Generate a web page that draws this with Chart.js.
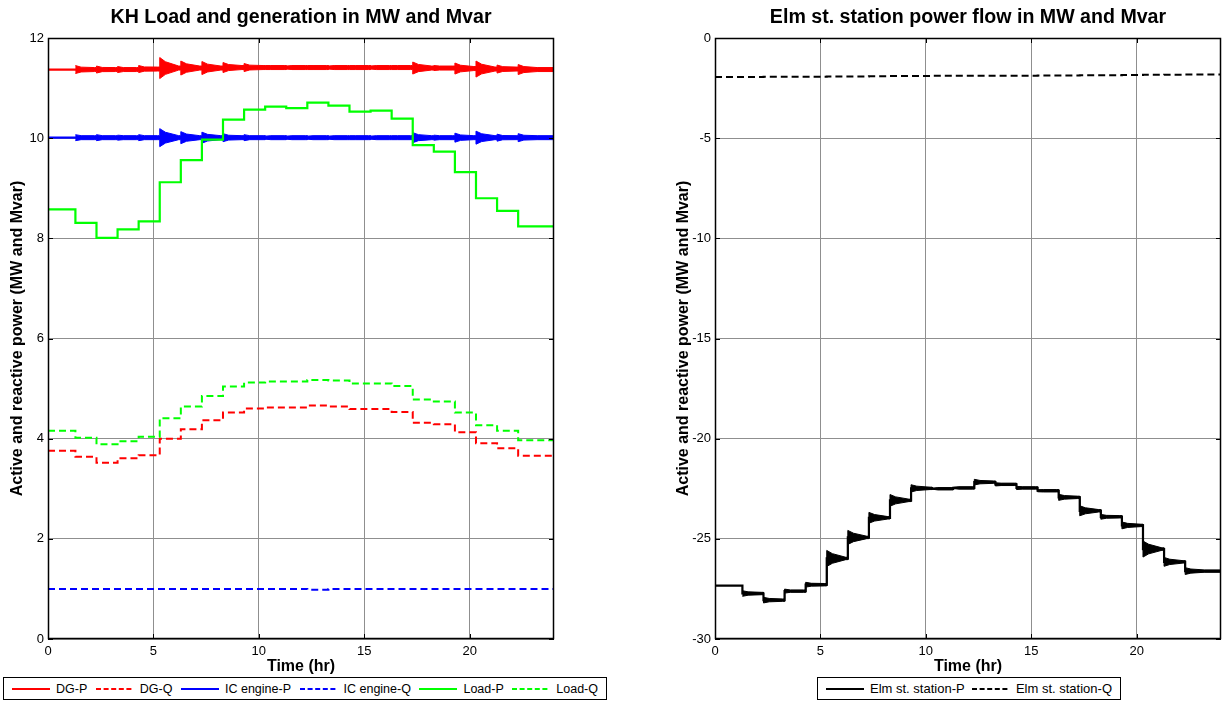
<!DOCTYPE html>
<html>
<head>
<meta charset="utf-8">
<script src="https://cdn.jsdelivr.net/npm/chart.js@4.4.1/dist/chart.umd.min.js"></script>
<style>
  body { margin: 0; background: #fff; width: 1225px; height: 702px; position: relative; overflow: hidden;
         font-family: Arial, "Liberation Sans", sans-serif; }
  canvas { position: absolute; top: 0; }
  #kh { left: 0; }
  #elm { left: 612px; }
  .legend { position: absolute; top: 677px; height: 23px; box-sizing: border-box; border: 1px solid #000;
            display: flex; align-items: center; justify-content: space-between; padding: 0 8px;
            background: #fff; color: #000; white-space: nowrap; }
  .legend .item { display: flex; align-items: center; }
  .legend svg { margin-right: 6px; }
</style>
</head>
<body>
<canvas id="kh" width="612" height="677"></canvas>
<canvas id="elm" width="613" height="677"></canvas>
<div class="legend" id="khLegend" style="left:3px; width:604px; font-size:12.5px;"></div>
<div class="legend" id="elmLegend" style="left:817px; width:304px; font-size:13px;"></div>

<script>
// hour at which each load step starts, last step runs to endTime
const stepTimes = [0, 1.3, 2.3, 3.3, 4.3, 5.3, 6.3, 7.3, 8.3, 9.3, 10.3, 11.3,
                   12.3, 13.3, 14.3, 15.3, 16.3, 17.3, 18.3, 19.3, 20.3, 21.3, 22.3];
const endTime = 24;
const xTicks = [0, 5, 10, 15, 20];

// KH feeder (MW / Mvar)
const dgP    = [11.37, 11.37, 11.37, 11.37, 11.38, 11.40, 11.40, 11.40, 11.41, 11.41, 11.41, 11.41,
                11.41, 11.41, 11.41, 11.41, 11.41, 11.40, 11.40, 11.39, 11.38, 11.38, 11.37];
const dgQ    = [3.76, 3.64, 3.52, 3.61, 3.67, 4.00, 4.19, 4.37, 4.52, 4.60, 4.62, 4.62,
                4.66, 4.64, 4.59, 4.59, 4.53, 4.32, 4.29, 4.13, 3.91, 3.81, 3.66];
const icP    = [10.01, 10.01, 10.01, 10.01, 10.01, 10.01, 10.01, 10.01, 10.01, 10.01, 10.01, 10.01,
                10.01, 10.01, 10.01, 10.01, 10.01, 10.01, 10.01, 10.01, 10.01, 10.01, 10.01];
const icQ    = [1.00, 1.00, 1.00, 1.00, 1.00, 1.00, 1.00, 1.00, 1.00, 1.00, 1.00, 1.00,
                0.985, 1.00, 1.00, 1.00, 1.00, 1.00, 1.00, 1.00, 1.00, 1.00, 1.00];
const loadP  = [8.58, 8.31, 8.01, 8.18, 8.34, 9.12, 9.56, 9.97, 10.37, 10.57, 10.63, 10.60,
                10.71, 10.65, 10.53, 10.55, 10.39, 9.86, 9.73, 9.32, 8.80, 8.55, 8.24];
const loadQ  = [4.16, 4.02, 3.89, 3.95, 4.04, 4.41, 4.64, 4.85, 5.04, 5.12, 5.14, 5.14,
                5.17, 5.16, 5.10, 5.10, 5.05, 4.78, 4.74, 4.52, 4.27, 4.16, 3.97];

// Elm st. station exchange (MW / Mvar)
const elmP   = [-27.34, -27.73, -28.06, -27.61, -27.29, -25.98, -24.93, -23.95, -23.08, -22.48, -22.50, -22.46,
                -22.17, -22.28, -22.46, -22.60, -22.93, -23.60, -23.90, -24.33, -25.51, -26.15, -26.61];
const elmQ   = [-1.95, -1.95, -1.94, -1.93, -1.93, -1.92, -1.92, -1.91, -1.90, -1.90, -1.89, -1.89,
                -1.88, -1.88, -1.88, -1.87, -1.87, -1.86, -1.86, -1.85, -1.84, -1.83, -1.82];

// peak half-swing of the switching transient after each step change
const dgSwing  = [0, 0.08, 0.07, 0.06, 0.07, 0.21, 0.14, 0.13, 0.10, 0.08, 0.04, 0.03,
                  0.04, 0.03, 0.04, 0.03, 0.04, 0.12, 0.05, 0.11, 0.16, 0.08, 0.10];
const icSwing  = [0, 0.06, 0.06, 0.05, 0.06, 0.18, 0.12, 0.11, 0.08, 0.06, 0.03, 0.03,
                  0.03, 0.03, 0.04, 0.03, 0.04, 0.10, 0.05, 0.09, 0.13, 0.07, 0.08];
const elmSwing = [0, 0.14, 0.14, 0.10, 0.12, 0.40, 0.35, 0.27, 0.29, 0.18, 0.02, 0.03,
                  0.14, 0.08, 0.08, 0.05, 0.15, 0.25, 0.12, 0.17, 0.40, 0.22, 0.17];

const RED = '#ff0000', BLUE = '#0000ff', GREEN = '#00ff00', BLACK = '#000000';
const DASH = [7, 4];

function steps(values) {
  const pts = stepTimes.map((t, i) => ({ x: t, y: values[i] }));
  pts.push({ x: endTime, y: values[values.length - 1] });
  return pts;
}

// closed outline of the ringing envelope around a stepped trace:
// full swing at the switching instant, shrinking down to the ripple band
function ringing(values, swing, ripple, decay) {
  const top = [], bottom = [];
  for (let i = 1; i < stepTimes.length; i++) {
    const t0 = stepTimes[i];
    const t1 = i + 1 < stepTimes.length ? stepTimes[i + 1] : endTime;
    const tKnee = t0 + decay * 0.3;
    const tEnd = Math.min(t0 + decay, t1);
    const knee = Math.max(swing[i] * 0.6, ripple);
    top.push({ x: t0, y: values[i] + swing[i] }, { x: tKnee, y: values[i] + knee },
             { x: tEnd, y: values[i] + ripple }, { x: t1, y: values[i] + ripple });
    bottom.push({ x: t0, y: values[i] - swing[i] }, { x: tKnee, y: values[i] - knee },
                { x: tEnd, y: values[i] - ripple }, { x: t1, y: values[i] - ripple });
  }
  return top.concat(bottom.reverse());
}

function trace(label, values, color, dashed) {
  return { label, data: steps(values), borderColor: color, borderWidth: dashed ? 2 : 2.2,
           borderDash: dashed ? DASH : [], stepped: 'before', pointRadius: 0, fill: false };
}

function band(values, swing, ripple, color) {
  return { label: '', data: ringing(values, swing, ripple, 0.9), borderColor: color, borderWidth: 1,
           backgroundColor: color, fill: 'shape', pointRadius: 0, tension: 0 };
}

// frame, inward tick marks and the axes title
const framePlugin = {
  id: 'frame',
  afterDraw(chart, args, opts) {
    const { ctx, chartArea: a, scales } = chart;
    ctx.save();
    ctx.strokeStyle = '#000';
    ctx.lineWidth = 1;
    scales.x.ticks.forEach(t => {
      const px = Math.round(scales.x.getPixelForValue(t.value)) + 0.5;
      ctx.beginPath();
      ctx.moveTo(px, a.bottom); ctx.lineTo(px, a.bottom - 5);
      ctx.moveTo(px, a.top); ctx.lineTo(px, a.top + 5);
      ctx.stroke();
    });
    scales.y.ticks.forEach(t => {
      const py = Math.round(scales.y.getPixelForValue(t.value)) + 0.5;
      ctx.beginPath();
      ctx.moveTo(a.left, py); ctx.lineTo(a.left + 5, py);
      ctx.moveTo(a.right, py); ctx.lineTo(a.right - 5, py);
      ctx.stroke();
    });
    ctx.lineWidth = 1.5;
    ctx.strokeRect(Math.round(a.left) + 0.5, Math.round(a.top) + 0.5,
                   Math.round(a.right - a.left) - 1, Math.round(a.bottom - a.top) - 1);
    ctx.fillStyle = '#000';
    ctx.font = 'bold 19.6px Arial, "Liberation Sans", sans-serif';
    ctx.textAlign = 'center';
    ctx.textBaseline = 'middle';
    ctx.fillText(opts.text, (a.left + a.right) / 2, 18);
    ctx.restore();
  }
};

function axes(yMin, yMax, yStep, yWidth, yTitlePad) {
  const grid = { color: '#8f8f8f', lineWidth: 1, drawTicks: false };
  return {
    x: {
      type: 'linear', min: 0, max: endTime,
      afterBuildTicks: s => { s.ticks = xTicks.map(v => ({ value: v })); },
      ticks: { color: '#000', font: { size: 13 }, padding: 5, maxRotation: 0 },
      grid, border: { display: false },
      title: { display: true, text: 'Time (hr)', color: '#000', font: { size: 16, weight: 'bold' },
               padding: { top: 0, bottom: 1 } },
      afterFit: s => { s.height = 38; }
    },
    y: {
      type: 'linear', min: yMin, max: yMax,
      ticks: { stepSize: yStep, color: '#000', font: { size: 13 }, padding: 4 },
      grid, border: { display: false },
      title: { display: true, text: 'Active and reactive power (MW and Mvar)', color: '#000',
               font: { size: 16, weight: 'bold' }, padding: { top: yTitlePad, bottom: 0 } },
      afterFit: s => { s.width = yWidth; }
    }
  };
}

const common = {
  responsive: false, animation: false, devicePixelRatio: 1,
  events: [],
  plugins: { legend: { display: false }, tooltip: { enabled: false } }
};

new Chart(document.getElementById('kh'), {
  type: 'line',
  data: {
    datasets: [
      trace('Load-Q', loadQ, GREEN, true),
      trace('Load-P', loadP, GREEN, false),
      trace('IC engine-Q', icQ, BLUE, true),
      trace('IC engine-P', icP, BLUE, false),
      band(icP, icSwing, 0.04, BLUE),
      trace('DG-Q', dgQ, RED, true),
      trace('DG-P', dgP, RED, false),
      band(dgP, dgSwing, 0.04, RED)
    ]
  },
  options: Object.assign({}, common, {
    layout: { padding: { top: 38, left: 0, right: 58, bottom: 0 } },
    scales: axes(0, 12, 2, 48, 7.5),
    plugins: Object.assign({}, common.plugins, { frame: { text: 'KH Load and generation in MW and Mvar' } })
  }),
  plugins: [framePlugin]
});

new Chart(document.getElementById('elm'), {
  type: 'line',
  data: {
    datasets: [
      trace('Elm st. station-Q', elmQ, BLACK, true),
      trace('Elm st. station-P', elmP, BLACK, false),
      band(elmP, elmSwing, 0.06, BLACK)
    ]
  },
  options: Object.assign({}, common, {
    layout: { padding: { top: 38, left: 0, right: 4, bottom: 0 } },
    scales: axes(-30, 0, 5, 103, 61.5),
    plugins: Object.assign({}, common.plugins, { frame: { text: 'Elm st. station power flow in MW and Mvar' } })
  }),
  plugins: [framePlugin]
});

// legend rows under each axes
function legend(el, entries) {
  entries.forEach(([label, color, dashed]) => {
    const item = document.createElement('span');
    item.className = 'item';
    item.innerHTML = '<svg width="38" height="4"><line x1="0" y1="2" x2="38" y2="2" stroke="' + color +
      '" stroke-width="2"' + (dashed ? ' stroke-dasharray="5,2.6"' : '') + '/></svg>';
    item.appendChild(document.createTextNode(label));
    el.appendChild(item);
  });
}
legend(document.getElementById('khLegend'), [
  ['DG-P', RED, false], ['DG-Q', RED, true], ['IC engine-P', BLUE, false],
  ['IC engine-Q', BLUE, true], ['Load-P', GREEN, false], ['Load-Q', GREEN, true]
]);
legend(document.getElementById('elmLegend'), [
  ['Elm st. station-P', BLACK, false], ['Elm st. station-Q', BLACK, true]
]);
</script>
</body>
</html>
